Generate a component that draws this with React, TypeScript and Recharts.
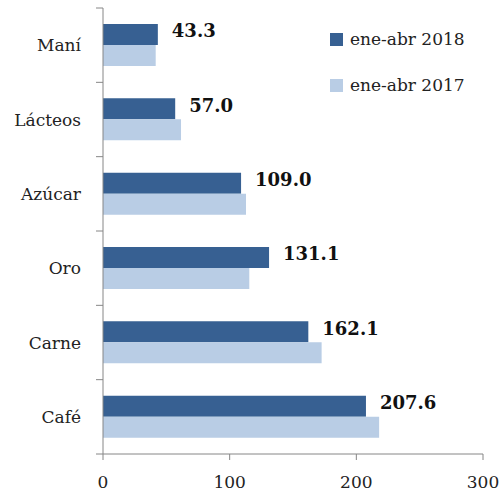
import { BarChart, Bar, XAxis, YAxis, Legend, LabelList } from 'recharts';

const categories = ['Maní', 'Lácteos', 'Azúcar', 'Oro', 'Carne', 'Café'];
const values2018 = [43.3, 57.0, 109.0, 131.1, 162.1, 207.6];
const values2017 = [41.6, 61.6, 112.9, 115.5, 172.6, 218.0];
const seriesNames = ['ene-abr 2018', 'ene-abr 2017'];
const xTicks = [0, 100, 200, 300];

const data = categories.map((name, i) => ({
  name,
  y2018: values2018[i],
  y2017: values2017[i],
}));

const FONT = 'DejaVu Serif, serif';
const AXIS = '#868686';

const renderLabel = (props: any) => {
  const { x, y, width, height, value } = props;
  return (
    <text x={Number(x) + Number(width) + 14} y={Number(y) + Number(height) / 2 + 3}
      fontFamily={FONT} fontSize={18} fontWeight="bold" fill="#111">
      {Number(value).toFixed(1)}
    </text>
  );
};

// category label plus Excel-style tick marks on the band edges
const CategoryTick = (props: any) => {
  const { x, y, payload, index } = props;
  const half = Number(payload?.offset) || 0;
  const axisX = Number(x) + 22;
  return (
    <g>
      <text x={x} y={y} dy={6} textAnchor="end" fontFamily={FONT} fontSize={17} fill="#222">
        {payload.value}
      </text>
      {half > 0 && <line x1={axisX - 7} x2={axisX} y1={y - half} y2={y - half} stroke={AXIS} />}
      {half > 0 && index === categories.length - 1 &&
        <line x1={axisX - 7} x2={axisX} y1={y + half} y2={y + half} stroke={AXIS} />}
    </g>
  );
};

const renderLegend = (props: any) => {
  const payload = props.payload || [];
  return (
    <div>
      {seriesNames.map((n) => {
        const p = payload.find((q: any) => q.value === n);
        return (
          <div key={n} style={{ display: 'flex', alignItems: 'center', height: 46 }}>
            <span style={{ width: 13, height: 13, background: p ? p.color : '#000', display: 'inline-block' }} />
            <span style={{ marginLeft: 7, fontFamily: FONT, fontSize: 17, color: '#222' }}>{n}</span>
          </div>
        );
      })}
    </div>
  );
};

export default function App() {
  return (
    <div style={{ position: 'absolute', left: 0, top: 0, background: '#fff', fontFamily: FONT }}>
      <BarChart width={504} height={493} data={data} layout="vertical"
        margin={{ top: 8, right: 21, bottom: 0, left: 0 }}
        barCategoryGap="21.5%" barGap={0}>
        <XAxis type="number" domain={[0, 300]} ticks={xTicks} height={39}
          stroke={AXIS} tickSize={6} tickMargin={16}
          tick={{ fill: '#222', fontFamily: FONT, fontSize: 17 }} />
        <YAxis type="category" dataKey="name" width={103} stroke={AXIS}
          tickLine={false} tickMargin={16} tick={CategoryTick} />
        <Legend layout="horizontal" verticalAlign="middle" align="center" content={renderLegend}
          wrapperStyle={{ top: 16, left: 330, width: 170 }} />
        <Bar dataKey="y2018" name={seriesNames[0]} fill="#376092" isAnimationActive={false}>
          <LabelList dataKey="y2018" content={renderLabel} />
        </Bar>
        <Bar dataKey="y2017" name={seriesNames[1]} fill="#B9CDE5" isAnimationActive={false} />
      </BarChart>
    </div>
  );
}
